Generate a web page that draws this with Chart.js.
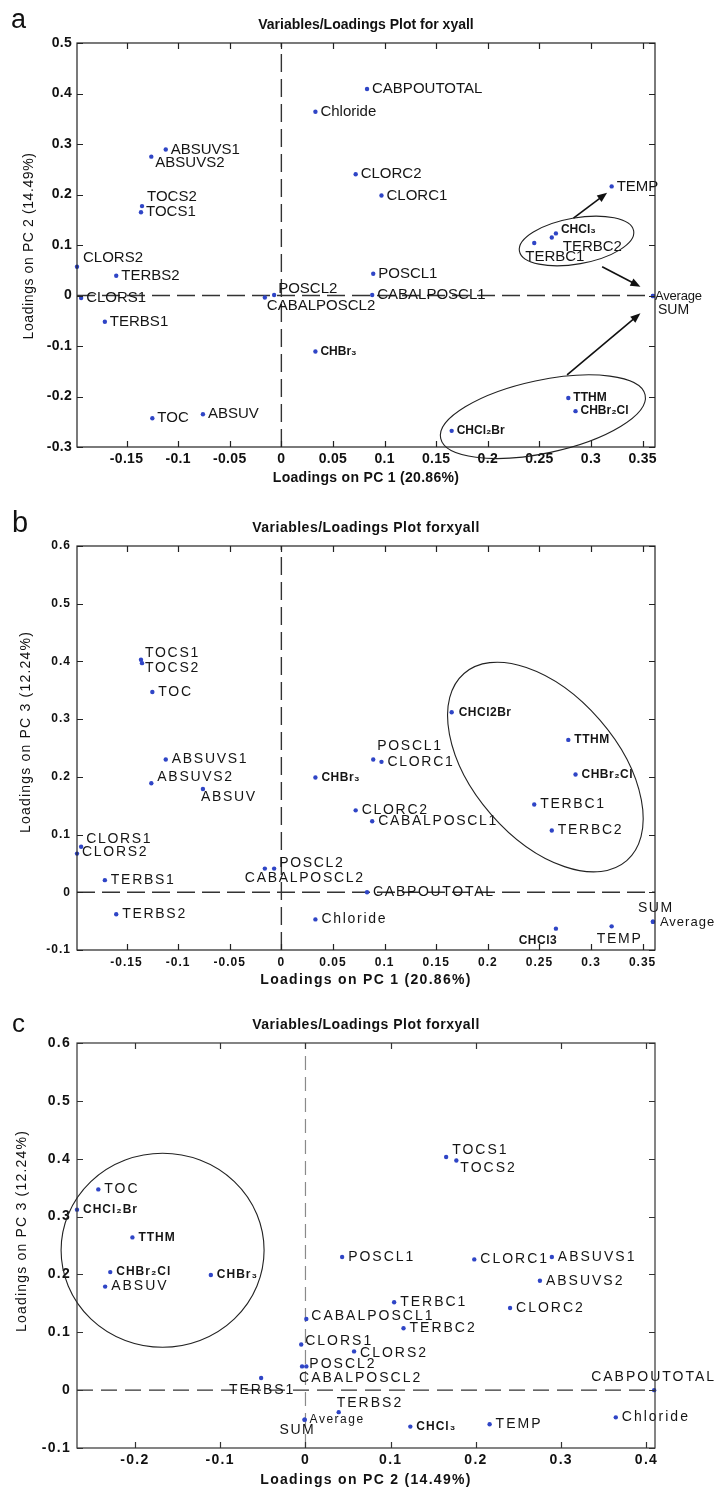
<!DOCTYPE html>
<html>
<head>
<meta charset="utf-8">
<script src="https://cdn.jsdelivr.net/npm/chart.js@4.4.1/dist/chart.umd.min.js"></script>
<style>
  html, body { margin: 0; padding: 0; background: #fff; }
  body { width: 718px; height: 1487px; position: relative; overflow: hidden; }
  canvas.panel { position: absolute; left: 0; }
</style>
</head>
<body>
<canvas id="plotA" class="panel" width="718" height="485" style="top:0px"></canvas>
<canvas id="plotB" class="panel" width="718" height="505" style="top:485px"></canvas>
<canvas id="plotC" class="panel" width="718" height="497" style="top:990px"></canvas>
<script>
// loadings of every variable on the first three principal components
const variables = ['CABPOUTOTAL', 'Chloride', 'ABSUVS1', 'ABSUVS2', 'TOCS1', 'TOCS2', 'CLORC2', 'CLORC1',
  'TEMP', 'CHCl3', 'TERBC2', 'TERBC1', 'CLORS2', 'TERBS2', 'CLORS1', 'TERBS1', 'POSCL2', 'CABALPOSCL2',
  'POSCL1', 'CABALPOSCL1', 'Average', 'SUM', 'CHBr3', 'TOC', 'ABSUV', 'TTHM', 'CHBr2Cl', 'CHCl2Br']
const pc1 = [0.083, 0.033, -0.112, -0.126, -0.136, -0.135, 0.072, 0.097,
  0.320, 0.266, 0.262, 0.245, -0.198, -0.160, -0.194, -0.171, -0.007, -0.016,
  0.089, 0.088, 0.360, 0.360, 0.033, -0.125, -0.076, 0.278, 0.285, 0.165]
const pc2 = [0.409, 0.364, 0.289, 0.275, 0.165, 0.177, 0.240, 0.198,
  0.216, 0.123, 0.115, 0.104, 0.057, 0.039, -0.005, -0.052, 0.001, -0.004,
  0.043, 0.001, -0.001, -0.001, -0.111, -0.243, -0.235, -0.203, -0.229, -0.268]
const pc3 = [0.000, -0.047, 0.230, 0.189, 0.403, 0.397, 0.142, 0.226,
  -0.059, -0.063, 0.107, 0.152, 0.067, -0.038, 0.079, 0.021, 0.041, 0.041,
  0.230, 0.123, -0.051, -0.051, 0.199, 0.347, 0.179, 0.264, 0.204, 0.312]

// tick values
const ticksPC1 = [-0.15, -0.1, -0.05, 0, 0.05, 0.1, 0.15, 0.2, 0.25, 0.3, 0.35]
const ticksPC2y = [-0.3, -0.2, -0.1, 0, 0.1, 0.2, 0.3, 0.4, 0.5]
const ticksPC2x = [-0.2, -0.1, 0, 0.1, 0.2, 0.3, 0.4]
const ticksPC3 = [-0.1, 0, 0.1, 0.2, 0.3, 0.4, 0.5, 0.6]

const FONT = "'Liberation Sans', Arial, Helvetica, sans-serif"
const heavyVars = ['CHCl3', 'CHBr3', 'TTHM', 'CHBr2Cl', 'CHCl2Br']
const subscripted = { CHCl3: 'CHCl₃', CHBr3: 'CHBr₃', CHBr2Cl: 'CHBr₂Cl', CHCl2Br: 'CHCl₂Br' }

Chart.defaults.font.family = FONT
Chart.defaults.color = '#111'

const panelA = {
    canvas: 'plotA', top: 0, height: 485, plotTop: 43, plotBottom: 447,
    xs: pc1, ys: pc2, xMin: -0.198, xMax: 0.362, yMin: -0.3, yMax: 0.5,
    xTicks: ticksPC1, yTicks: ticksPC2y,
    letter: 'a', letterSize: 27, letterX: 11, letterBase: 28,
    title: 'Variables/Loadings Plot for xyall', titleY: 25, titleSpacing: 0,
    xTitle: 'Loadings on PC 1 (20.86%)', xTitleY: 478, xTitleSpacing: 0.3,
    yTitle: 'Loadings on PC 2 (14.49%)', yTitleX: 29, yTitleY: 246, yTitleSpacing: 0.6,
    tickSize: 14, tickSpacing: 0.3, xTickPad: 4, yTickPad: 5,
    labelSize: 15, labelSpacing: 0, boldSize: 12, boldSpacing: 0, gap: 5,
    special: { Average: [13, -0.2], SUM: [14, 0] },
    rename: subscripted,
    offsets: {
        TOCS2: [5, -9], ABSUVS2: [4, 6], CHCl3: [5, -4], TERBC2: [11, 9], TERBC1: [-9, 14],
        CLORS2: [6, -9], POSCL2: [4, -6], CABALPOSCL2: [2, 8], Average: [2, 0], SUM: [5, 14]
    },
    vDash: { color: '#333', width: 1.4, dash: [18, 7] },
    hDash: { color: '#333', width: 1.4, dash: [18, 7] },
    frameColor: '#222',
    ellipses: [
        { x: 0.286, y: 0.108, rx: 58, ry: 23, rot: -10 },
        { x: 0.2534, y: -0.240, rx: 104.5, ry: 36.5, rot: -12 }
    ],
    arrows: [
        [0.283, 0.153, 0.3156, 0.2036],
        [0.3108, 0.057, 0.3479, 0.0173],
        [0.2768, -0.1574, 0.3479, -0.0353]
    ]
}

const panelB = {
    canvas: 'plotB', top: 485, height: 505, plotTop: 546, plotBottom: 950,
    xs: pc1, ys: pc3, xMin: -0.198, xMax: 0.362, yMin: -0.1, yMax: 0.6,
    xTicks: ticksPC1, yTicks: ticksPC3,
    letter: 'b', letterSize: 29, letterX: 12, letterBase: 531.5,
    title: 'Variables/Loadings Plot forxyall', titleY: 528, titleSpacing: 0.5,
    xTitle: 'Loadings on PC 1 (20.86%)', xTitleY: 980, xTitleSpacing: 1.3,
    yTitle: 'Loadings on PC 3 (12.24%)', yTitleX: 26, yTitleY: 732, yTitleSpacing: 1.2,
    tickSize: 12, tickSpacing: 1, xTickPad: 5, yTickPad: 6,
    labelSize: 14, labelSpacing: 1.7, boldSize: 12, boldSpacing: 0.5, gap: 6,
    special: { Average: [13, 1], SUM: [14, 1.5] },
    rename: { CHBr3: 'CHBr₃', CHBr2Cl: 'CHBr₂Cl' },
    offsets: {
        TOCS1: [4, -7], TOCS2: [3, 5], ABSUVS2: [6, -6], ABSUV: [-2, 8], CLORS1: [5, -8],
        CLORS2: [5, -1], POSCL2: [5, -5], CABALPOSCL2: [-20, 10], POSCL1: [4, -13],
        CHCl2Br: [7, 0], CHCl3: [-18, 12, 'center'], TEMP: [8, 13, 'center'],
        SUM: [-15, -14], Average: [7, 1]
    },
    vDash: { color: '#333', width: 1.4, dash: [18, 7] },
    hDash: { color: '#333', width: 1.4, dash: [18, 7] },
    frameColor: '#222',
    ellipses: [{ x: 0.2558, y: 0.217, rx: 124, ry: 72, rot: 49 }],
    arrows: []
}

const panelC = {
    canvas: 'plotC', top: 990, height: 497, plotTop: 1043, plotBottom: 1448,
    xs: pc2, ys: pc3, xMin: -0.268, xMax: 0.410, yMin: -0.1, yMax: 0.6,
    xTicks: ticksPC2x, yTicks: ticksPC3,
    letter: 'c', letterSize: 26, letterX: 12, letterBase: 1031.5,
    title: 'Variables/Loadings Plot forxyall', titleY: 1025.5, titleSpacing: 0.5,
    xTitle: 'Loadings on PC 2 (14.49%)', xTitleY: 1480, xTitleSpacing: 1.3,
    yTitle: 'Loadings on PC 3 (12.24%)', yTitleX: 22, yTitleY: 1231, yTitleSpacing: 1.2,
    tickSize: 14, tickSpacing: 1.3, xTickPad: 4, yTickPad: 6,
    labelSize: 14, labelSpacing: 2, boldSize: 12, boldSpacing: 1, gap: 6,
    special: { Average: [12, 1.5], SUM: [14, 1.5] },
    rename: subscripted,
    offsets: {
        TOCS1: [6, -7], TOCS2: [4, 8], CLORS1: [4, -3], CLORS2: [6, 2], POSCL2: [3, -2],
        CABALPOSCL2: [-3, 12], CABALPOSCL1: [5, -3], TERBS1: [1, 12, 'center'], Average: [5, 0],
        SUM: [-25, 10], TERBS2: [-2, -9], CABPOUTOTAL: [-63, -13]
    },
    vDash: { color: '#8a8a8a', width: 1.2, dash: [14, 7] },
    hDash: { color: '#333', width: 1.3, dash: [16, 8] },
    frameColor: '#333',
    ellipses: [{ x: -0.1676, y: 0.2418, rx: 101.5, ry: 97, rot: 0 }],
    arrows: []
}

function fmtTick(v) {
    return String(Number(v.toFixed(2)))
}

function drawArrow(ctx, x1, y1, x2, y2) {
    const a = Math.atan2(y2 - y1, x2 - x1), L = 10, W = 4
    ctx.beginPath()
    ctx.moveTo(x1, y1)
    ctx.lineTo(x2 - L * 0.8 * Math.cos(a), y2 - L * 0.8 * Math.sin(a))
    ctx.stroke()
    ctx.beginPath()
    ctx.moveTo(x2, y2)
    ctx.lineTo(x2 - L * Math.cos(a) + W * Math.sin(a), y2 - L * Math.sin(a) - W * Math.cos(a))
    ctx.lineTo(x2 - L * Math.cos(a) - W * Math.sin(a), y2 - L * Math.sin(a) + W * Math.cos(a))
    ctx.closePath()
    ctx.fill()
}

// labels, ellipses, arrows, box with inner ticks and titles
function makeDecor(p) {
    return {
        id: 'decor',
        beforeDraw(chart) {
            chart.ctx.letterSpacing = p.tickSpacing + 'px'
        },
        afterDatasetsDraw(chart) {
            const ctx = chart.ctx
            const xs = chart.scales.x, ys = chart.scales.y
            const meta = chart.getDatasetMeta(0)
            ctx.save()
            ctx.fillStyle = '#151515'
            ctx.textBaseline = 'middle'
            meta.data.forEach((pt, i) => {
                const name = variables[i]
                const text = p.rename[name] || name
                const off = p.offsets[name] || [p.gap, 0]
                const bold = heavyVars.includes(name)
                let size = bold ? p.boldSize : p.labelSize
                let spacing = bold ? p.boldSpacing : p.labelSpacing
                if (p.special[name]) [size, spacing] = p.special[name]
                ctx.font = (bold ? 'bold ' : '') + size + 'px ' + FONT
                ctx.letterSpacing = spacing + 'px'
                ctx.textAlign = off[2] || 'left'
                ctx.fillText(text, pt.x + off[0], pt.y + off[1])
            })
            ctx.letterSpacing = '0px'
            ctx.strokeStyle = '#222'
            ctx.lineWidth = 1.1
            p.ellipses.forEach(e => {
                ctx.beginPath()
                ctx.ellipse(xs.getPixelForValue(e.x), ys.getPixelForValue(e.y), e.rx, e.ry,
                    e.rot * Math.PI / 180, 0, 2 * Math.PI)
                ctx.stroke()
            })
            ctx.strokeStyle = '#111'
            ctx.fillStyle = '#111'
            ctx.lineWidth = 1.6
            p.arrows.forEach(a => {
                drawArrow(ctx, xs.getPixelForValue(a[0]), ys.getPixelForValue(a[1]),
                    xs.getPixelForValue(a[2]), ys.getPixelForValue(a[3]))
            })
            ctx.restore()
        },
        afterDraw(chart) {
            const ctx = chart.ctx
            const { left, right, top, bottom } = chart.chartArea
            const xs = chart.scales.x, ys = chart.scales.y
            ctx.save()
            ctx.letterSpacing = '0px'
            ctx.strokeStyle = p.frameColor
            ctx.lineWidth = 1.2
            ctx.strokeRect(left, top, right - left, bottom - top)
            const tl = 6
            ctx.beginPath()
            xs.ticks.forEach(t => {
                const px = Math.round(xs.getPixelForValue(t.value)) + 0.5
                ctx.moveTo(px, bottom); ctx.lineTo(px, bottom - tl)
                ctx.moveTo(px, top); ctx.lineTo(px, top + tl)
            })
            ys.ticks.forEach(t => {
                const py = Math.round(ys.getPixelForValue(t.value)) + 0.5
                ctx.moveTo(left, py); ctx.lineTo(left + tl, py)
                ctx.moveTo(right, py); ctx.lineTo(right - tl, py)
            })
            ctx.stroke()

            const off = p.top
            const midX = (left + right) / 2
            ctx.fillStyle = '#111'
            ctx.textBaseline = 'alphabetic'
            ctx.textAlign = 'left'
            ctx.font = p.letterSize + 'px ' + FONT
            ctx.fillText(p.letter, p.letterX, p.letterBase - off)

            ctx.textBaseline = 'middle'
            ctx.textAlign = 'center'
            ctx.font = 'bold 14px ' + FONT
            ctx.letterSpacing = p.titleSpacing + 'px'
            ctx.fillText(p.title, midX, p.titleY - off)
            ctx.letterSpacing = p.xTitleSpacing + 'px'
            ctx.fillText(p.xTitle, midX, p.xTitleY - off)

            ctx.font = '14px ' + FONT
            ctx.letterSpacing = p.yTitleSpacing + 'px'
            ctx.translate(p.yTitleX, p.yTitleY - off)
            ctx.rotate(-Math.PI / 2)
            ctx.fillText(p.yTitle, 0, 0)
            ctx.restore()
        }
    }
}

function makePanel(p) {
    const points = p.xs.map((x, i) => ({ x: x, y: p.ys[i] }))
    const dashLine = (d, data) => ({
        type: 'line', data: data, showLine: true, pointRadius: 0, clip: false,
        borderColor: d.color, borderWidth: d.width, borderDash: d.dash
    })
    const ctx = document.getElementById(p.canvas).getContext('2d')
    return new Chart(ctx, {
        type: 'scatter',
        data: {
            datasets: [
                {
                    data: points, pointRadius: 2.2, pointBorderWidth: 0,
                    pointBackgroundColor: '#2f45c6', backgroundColor: '#2f45c6', clip: false
                },
                dashLine(p.vDash, [{ x: 0, y: p.yMin }, { x: 0, y: p.yMax }]),
                dashLine(p.hDash, [{ x: p.xMin, y: 0 }, { x: p.xMax, y: 0 }])
            ]
        },
        options: {
            responsive: false,
            maintainAspectRatio: false,
            animation: false,
            events: [],
            layout: { padding: { top: p.plotTop - p.top, right: 63, bottom: 0, left: 0 } },
            plugins: { legend: { display: false }, tooltip: { enabled: false } },
            scales: {
                x: {
                    type: 'linear', min: p.xMin, max: p.xMax,
                    grid: { display: false, drawTicks: false }, border: { display: false },
                    afterBuildTicks: axis => { axis.ticks = p.xTicks.map(v => ({ value: v })) },
                    afterFit: axis => { axis.height = p.top + p.height - p.plotBottom },
                    ticks: {
                        autoSkip: false, maxRotation: 0, padding: p.xTickPad, color: '#111',
                        font: { size: p.tickSize, weight: 'bold' }, callback: v => fmtTick(v)
                    }
                },
                y: {
                    type: 'linear', min: p.yMin, max: p.yMax,
                    grid: { display: false, drawTicks: false }, border: { display: false },
                    afterBuildTicks: axis => { axis.ticks = p.yTicks.map(v => ({ value: v })) },
                    afterFit: axis => { axis.width = 77 },
                    ticks: {
                        autoSkip: false, padding: p.yTickPad, color: '#111',
                        font: { size: p.tickSize, weight: 'bold' }, callback: v => fmtTick(v)
                    }
                }
            }
        },
        plugins: [makeDecor(p)]
    })
}

makePanel(panelA)
makePanel(panelB)
makePanel(panelC)
</script>
</body>
</html>
